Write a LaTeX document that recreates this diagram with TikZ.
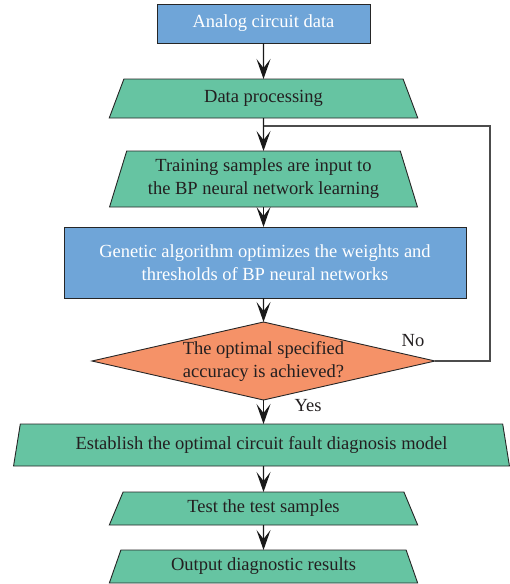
\documentclass[tikz,border=0pt]{standalone}
\usepackage{fontspec}
\setmainfont{Liberation Serif}
\usetikzlibrary{shapes.geometric,arrows.meta}
\definecolor{bluebox}{RGB}{111,165,216}
\definecolor{greenbox}{RGB}{102,196,162}
\definecolor{orangebox}{RGB}{245,146,104}
\definecolor{txt}{RGB}{35,31,32}
\begin{document}
\begin{tikzpicture}[x=1pt,y=-1pt,
  every node/.style={font=\fontsize{18.5}{23}\selectfont, inner sep=0pt, outer sep=0pt, align=center},
  bbox/.style={rectangle, draw=black!85, line width=0.9pt, fill=bluebox, text=white},
  gbox/.style={trapezium, trapezium stretches=true, draw=black!85, line width=0.9pt, fill=greenbox, text=txt},
  dbox/.style={diamond, aspect=4.4, draw=black!85, line width=0.9pt, fill=orangebox, text=txt},
  arr/.style={draw=black!90, line width=1.2pt, -{Stealth[length=20pt,width=14pt,inset=9pt]}},
  loop/.style={draw=black!70, line width=1.1pt}]
\useasboundingbox (0,0) rectangle (510,584);
\node[bbox, minimum width=213, minimum height=39] (a) at (263.5,23.5) {Analog circuit data};
\node[gbox, trapezium angle=69, minimum width=309, minimum height=39] (b) at (263.5,98.5) {Data processing};
\node[gbox, trapezium angle=70, minimum width=309, minimum height=56] (c) at (263.5,179) {Training samples are input to\\the BP neural network learning};
\node[bbox, minimum width=402, minimum height=71] (d) at (265,262.5) {Genetic algorithm optimizes the weights and\\thresholds of BP neural networks};
\node[dbox, minimum width=343, minimum height=78] (e) at (263.5,361) {The optimal specified\\accuracy is achieved?};
\node[gbox, trapezium angle=73, minimum width=497, minimum height=42] (f) at (261.5,445) {Establish the optimal circuit fault diagnosis model};
\node[gbox, trapezium angle=66, minimum width=309, minimum height=33] (g) at (263.5,508.5) {Test the test samples};
\node[gbox, trapezium angle=66, minimum width=309, minimum height=33] (h) at (263.5,566.5) {Output diagnostic results};
\coordinate (j) at (263.5,126);
\coordinate (r1) at (490,126);
\coordinate (r2) at (490,361);
\node[text=txt] (no) at (413,341) {No};
\node[text=txt] (yes) at (308,406) {Yes};
\draw[arr] (a.south) -- (b.north);
\draw[arr] (b.south) -- (c.north);
\draw[arr] (c.south) -- (c.south |- d.north);
\draw[arr] (c.south |- d.south) -- (e.north);
\draw[arr] (e.south) -- (e.south |- f.north);
\draw[arr] (e.south |- f.south) -- (g.north);
\draw[arr] (g.south) -- (h.north);
\draw[loop] (e.east) -- (r2) -- (r1) -- (j);
\end{tikzpicture}
\end{document}
